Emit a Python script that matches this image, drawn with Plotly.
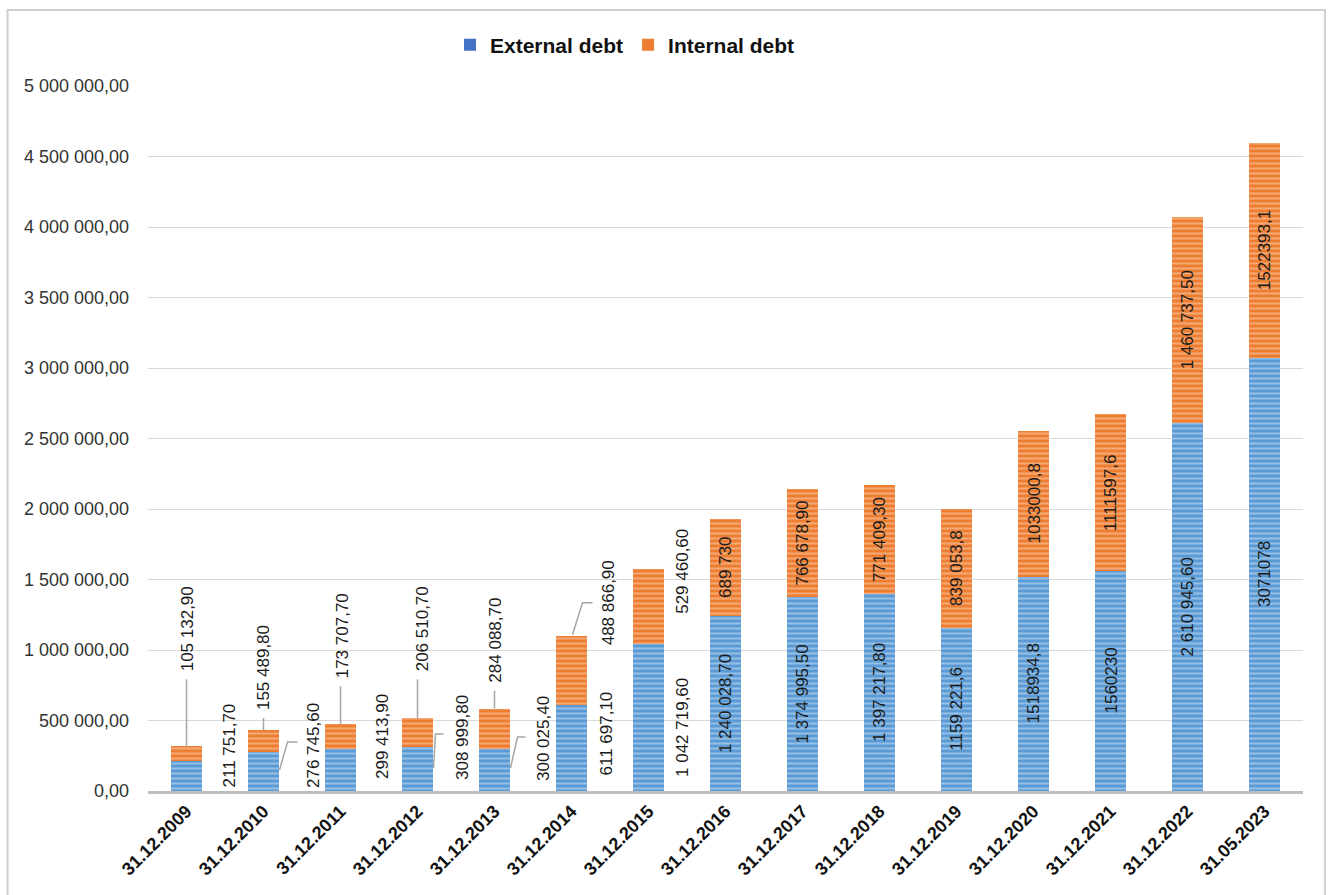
import plotly.graph_objects as go

# ---------------- data ----------------
dates = ["31.12.2009", "31.12.2010", "31.12.2011", "31.12.2012", "31.12.2013",
         "31.12.2014", "31.12.2015", "31.12.2016", "31.12.2017", "31.12.2018",
         "31.12.2019", "31.12.2020", "31.12.2021", "31.12.2022", "31.05.2023"]

external_debt = [211751.7, 276745.6, 299413.9, 308999.8, 300025.4,
                 611697.1, 1042719.6, 1240028.7, 1374995.5, 1397217.8,
                 1159221.6, 1518934.8, 1560230.0, 2610945.6, 3071078.0]

internal_debt = [105132.9, 155489.8, 173707.7, 206510.7, 284088.7,
                 488866.9, 529460.6, 689730.0, 766678.9, 771409.3,
                 839053.8, 1033000.8, 1111597.6, 1460737.5, 1522393.1]

external_labels = ["211 751,70", "276 745,60", "299 413,90", "308 999,80", "300 025,40",
                   "611 697,10", "1 042 719,60", "1 240 028,70", "1 374 995,50", "1 397 217,80",
                   "1159 221,6", "1518934,8", "1560230", "2 610 945,60", "3071078"]

internal_labels = ["105 132,90", "155 489,80", "173 707,70", "206 510,70", "284 088,70",
                   "488 866,90", "529 460,60", "689 730", "766 678,90", "771 409,30",
                   "839 053,8", "1033000,8", "1111597,6", "1 460 737,50", "1522393,1"]

y_ticks = [0, 500000, 1000000, 1500000, 2000000, 2500000,
           3000000, 3500000, 4000000, 4500000, 5000000]

# ---------------- styling ----------------
BLUE, BLUE_LIGHT = "#5B9BD5", "#CFE3F6"
ORANGE, ORANGE_LIGHT = "#ED7D31", "#FAD6BD"
LEADER = "#A6A6A6"
LABEL_FONT = dict(family="Liberation Sans, Arial, sans-serif", size=17, color="#1a1a1a")


def fmt_tick(v):
    s = f"{v:,.2f}"
    return s.replace(",", " ").replace(".", ",")


fig = go.Figure()
fig.add_trace(go.Bar(
    x=dates, y=external_debt, name="External debt", showlegend=False,
    marker=dict(color=BLUE, line=dict(width=0),
                pattern=dict(shape="-", fillmode="overlay", fgcolor=BLUE_LIGHT,
                             size=5, solidity=0.4)),
))
fig.add_trace(go.Bar(
    x=dates, y=internal_debt, name="Internal debt", showlegend=False,
    marker=dict(color=ORANGE, line=dict(width=0),
                pattern=dict(shape="-", fillmode="overlay", fgcolor=ORANGE_LIGHT,
                             size=5, solidity=0.4)),
))
# legend entries (solid squares)
fig.add_trace(go.Scatter(x=[None], y=[None], mode="markers", name="External debt",
                         marker=dict(symbol="square", size=16, color="#4472C4")))
fig.add_trace(go.Scatter(x=[None], y=[None], mode="markers", name="Internal debt",
                         marker=dict(symbol="square", size=16, color=ORANGE)))

annotations = []
shapes = []

# layout offsets (pixels) for labels drawn beside / above the small bars
ext_side_dx = {0: 42, 1: 50, 2: 42, 3: 45, 4: 49, 5: 34, 6: 34}
ext_side_dy = {0: 1, 1: 1, 2: 10, 3: 9, 4: 8, 5: 13, 6: 12}
int_above_dy = {0: 73, 1: 18, 2: 44, 3: 45, 4: 24}
int_above_dx = {0: 1, 1: 0, 2: 2, 3: 5, 4: 1}

for i, d in enumerate(dates):
    e, n = external_debt[i], internal_debt[i]
    total = e + n
    # external label
    if i in ext_side_dx:
        annotations.append(dict(x=d, y=0, text=external_labels[i], textangle=-90,
                                xanchor="center", yanchor="bottom",
                                xshift=ext_side_dx[i], yshift=ext_side_dy[i],
                                showarrow=False, font=LABEL_FONT))
    else:
        annotations.append(dict(x=d, y=e / 2, text=external_labels[i], textangle=-90,
                                xanchor="center", yanchor="middle",
                                showarrow=False, font=LABEL_FONT))
    # internal label
    if i in int_above_dy:
        annotations.append(dict(x=d, y=total, text=internal_labels[i], textangle=-90,
                                xanchor="center", yanchor="bottom",
                                xshift=int_above_dx[i], yshift=int_above_dy[i],
                                showarrow=False, font=LABEL_FONT))
        shapes.append(dict(type="line", xref="x", yref="y",
                           xsizemode="pixel", ysizemode="pixel",
                           xanchor=d, yanchor=total,
                           x0=0, x1=0, y0=0, y1=int_above_dy[i] - 6,
                           line=dict(color=LEADER, width=1.5)))
    elif i == 5:
        annotations.append(dict(x=d, y=total, text=internal_labels[i], textangle=-90,
                                xanchor="center", yanchor="middle",
                                xshift=37, yshift=33,
                                showarrow=False, font=LABEL_FONT))
        shapes.append(dict(type="path", xref="x", yref="y",
                           xsizemode="pixel", ysizemode="pixel",
                           xanchor=d, yanchor=total,
                           path="M 1 1 L 11 33 L 21 33",
                           line=dict(color=LEADER, width=1.5)))
    elif i == 6:
        annotations.append(dict(x=d, y=total, text=internal_labels[i], textangle=-90,
                                xanchor="center", yanchor="middle",
                                xshift=34, yshift=-2,
                                showarrow=False, font=LABEL_FONT))
    else:
        annotations.append(dict(x=d, y=e + n / 2, text=internal_labels[i], textangle=-90,
                                xanchor="center", yanchor="middle",
                                showarrow=False, font=LABEL_FONT))

# leader lines for external labels beside bars
for i, pts in {1: "M 16 21 L 24 49 L 34 49",
               3: "M 16 23 L 18 57 L 26 57",
               4: "M 16 23 L 23 54 L 31 54"}.items():
    shapes.append(dict(type="path", xref="x", yref="y",
                       xsizemode="pixel", ysizemode="pixel",
                       xanchor=dates[i], yanchor=0, path=pts,
                       line=dict(color=LEADER, width=1.5)))

# outer chart frame
shapes.append(dict(type="rect", xref="paper", yref="paper",
                   x0=-0.1216, x1=1.0190, y0=-0.16, y1=1.1078,
                   line=dict(color="#D0D0D0", width=2), layer="below"))

fig.update_layout(
    width=1330, height=895,
    template="none",
    barmode="stack",
    bargap=0.585,
    paper_bgcolor="white",
    plot_bgcolor="white",
    margin=dict(l=148, r=27, t=86, b=104, autoexpand=False),
    font=dict(family="Liberation Sans, Arial, sans-serif", color="#262626"),
    legend=dict(orientation="h", x=0.413, y=1.058, xanchor="center", yanchor="middle",
                traceorder="normal",
                font=dict(size=21, family="Liberation Sans Narrow, Liberation Sans, Arial",
                          color="#111111", weight="bold"),
                itemsizing="constant", itemwidth=30, tracegroupgap=0,
                bgcolor="rgba(0,0,0,0)"),
    xaxis=dict(type="category", tickangle=-45, showgrid=False,
               showline=True, linecolor="#BFBFBF", linewidth=2.5,
               ticks="", automargin=False,
               tickfont=dict(size=18, family="Liberation Sans, Arial", color="#111111",
                             weight="bold")),
    yaxis=dict(range=[0, 5000000], tickvals=y_ticks,
               ticktext=[fmt_tick(v) for v in y_ticks],
               showgrid=True, gridcolor="#D9D9D9", gridwidth=1,
               zeroline=False, showline=False, ticks="",
               ticklabelstandoff=18, automargin=False,
               tickfont=dict(size=18, family="Liberation Sans, Arial", color="#333333")),
    annotations=annotations,
    shapes=shapes,
)

fig.write_html("out.html")
